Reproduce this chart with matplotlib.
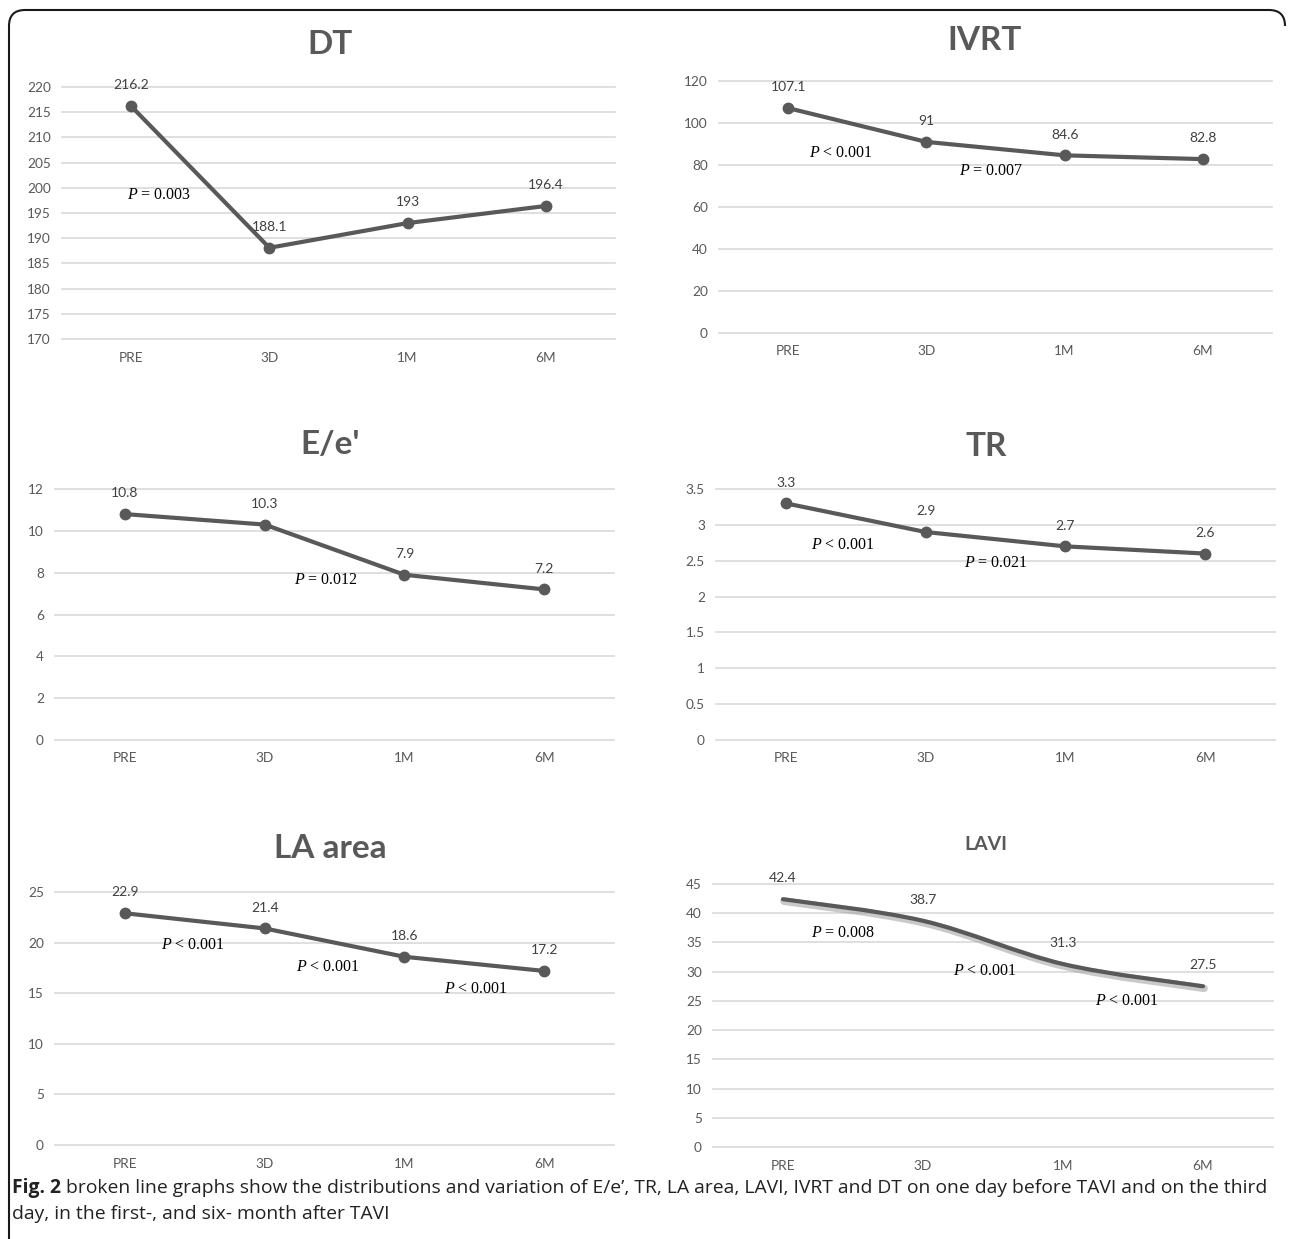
import matplotlib
matplotlib.use("Agg")
import matplotlib.pyplot as plt
import matplotlib.transforms as mtransforms
from matplotlib.path import Path
from matplotlib.patches import PathPatch
import numpy as np

# data
categories = ["PRE", "3D", "1M", "6M"]
dt_values = [216.2, 188.1, 193, 196.4]
ivrt_values = [107.1, 91, 84.6, 82.8]
ee_values = [10.8, 10.3, 7.9, 7.2]
tr_values = [3.3, 2.9, 2.7, 2.6]
la_values = [22.9, 21.4, 18.6, 17.2]
lavi_values = [42.4, 38.7, 31.3, 27.5]

dt_ticks = np.arange(170, 221, 5)
ivrt_ticks = np.arange(0, 121, 20)
ee_ticks = np.arange(0, 13, 2)
tr_ticks = np.arange(0, 3.6, 0.5)
la_ticks = np.arange(0, 26, 5)
lavi_ticks = np.arange(0, 46, 5)

# p-value notes: (x in category units, y in data units, text)
dt_pvals = [(0.2, 198.6, "= 0.003")]
ivrt_pvals = [(0.38, 85.7, "< 0.001"), (1.47, 77.1, "= 0.007")]
ee_pvals = [(1.44, 7.65, "= 0.012")]
tr_pvals = [(0.41, 2.72, "< 0.001"), (1.5, 2.47, "= 0.021")]
la_pvals = [(0.49, 19.76, "< 0.001"), (1.45, 17.6, "< 0.001"), (2.51, 15.4, "< 0.001")]
lavi_pvals = [(0.43, 36.6, "= 0.008"), (1.44, 30.1, "< 0.001"), (2.46, 25.0, "< 0.001")]

caption_bold = "Fig. 2"
caption_1 = ("broken line graphs show the distributions and variation of E/e\u2019, TR, LA area, "
             "LAVI, IVRT and DT on one day before TAVI and on the third")
caption_2 = "day, in the first-, and six- month after TAVI"

W, H = 1292, 1239
plt.rcParams["font.family"] = ["Lato", "DejaVu Sans"]
plt.rcParams["mathtext.fontset"] = "custom"
plt.rcParams["mathtext.it"] = "Liberation Serif:italic"
plt.rcParams["mathtext.rm"] = "Liberation Serif"

LINE = "#595959"
GRID = "#d9d9d9"
TICK = "#595959"
LABEL = "#404040"

fig = plt.figure(figsize=(W / 100, H / 100), dpi=100)
px = mtransforms.Affine2D().scale(1 / W, 1 / H) + fig.transFigure


def panel(box, title, title_xy, values, ticks, pvals, title_size=24, smooth=False):
    x0, x1, ytop, ybot = box
    ax = fig.add_axes([x0 / W, 1 - ybot / H, (x1 - x0) / W, (ybot - ytop) / H])
    ax.set_xlim(-0.5, len(categories) - 0.5)
    ax.set_ylim(ticks[0], ticks[-1])
    ax.set_xticks(range(len(categories)))
    ax.set_xticklabels(categories)
    ax.set_yticks(ticks)
    ax.set_yticklabels([f"{t:g}" for t in ticks])
    for s in ax.spines.values():
        s.set_visible(False)
    ax.tick_params(length=0, labelsize=9.8, colors=TICK)
    ax.tick_params(axis="y", pad=8)
    ax.tick_params(axis="x", pad=9)
    ax.yaxis.grid(True, color=GRID, lw=1.2)
    for gl in ax.get_ygridlines():
        gl.set_clip_on(False)
    ax.set_axisbelow(True)

    xs = np.arange(len(values))
    if smooth:
        pts = np.column_stack([xs, values]).astype(float)
        ext = np.vstack([pts[0], pts, pts[-1]])
        verts = [pts[0]]
        codes = [Path.MOVETO]
        for i in range(len(pts) - 1):
            c1 = ext[i + 1] + (ext[i + 2] - ext[i]) / 6
            c2 = ext[i + 2] - (ext[i + 3] - ext[i + 1]) / 6
            verts += [c1, c2, pts[i + 1]]
            codes += [Path.CURVE4] * 3
        path = Path(verts, codes)
        shadow = mtransforms.offset_copy(ax.transData, fig=fig, x=1, y=-2, units="dots")
        ax.add_patch(PathPatch(path, fc="none", ec="#a6a6a6", lw=5.5, alpha=0.6,
                               transform=shadow, capstyle="round", clip_on=False))
        ax.add_patch(PathPatch(path, fc="none", ec=LINE, lw=3, capstyle="round",
                               clip_on=False))
    else:
        ax.plot(xs, values, color=LINE, lw=3, marker="o", ms=7.5, clip_on=False,
                solid_joinstyle="round")

    for i, v in enumerate(values):
        ax.annotate(f"{v:g}", (i, v), xytext=(0, 15), textcoords="offset points",
                    ha="center", va="center", fontsize=10, color=LABEL)
    for x, y, t in pvals:
        ax.text(x, y, r"$P$ " + t, ha="center", va="center", fontsize=11.5,
                family="Liberation Serif", color="black")

    fig.text(title_xy[0] / W, 1 - title_xy[1] / H, title, ha="center", va="center",
             fontsize=title_size, fontweight="bold", color=LINE)
    return ax


panel((62, 615, 87, 339), "DT", (330, 44), dt_values, dt_ticks, dt_pvals)
panel((719, 1272, 81, 333), "IVRT", (985, 41), ivrt_values, ivrt_ticks, ivrt_pvals)
panel((55, 614, 489, 740), "E/e'", (330, 444), ee_values, ee_ticks, ee_pvals)
panel((716, 1275, 489, 740), "TR", (986, 446), tr_values, tr_ticks, tr_pvals)
panel((55, 614, 892, 1145), "LA area", (330, 849), la_values, la_ticks, la_pvals)
panel((713, 1273, 884, 1147), "LAVI", (986, 845), lavi_values, lavi_ticks, lavi_pvals,
      title_size=14, smooth=True)

# outer frame: left and top edges, rounded top corners, open elsewhere
r = 16
L, T, R, B = 9, 10, 1285, H + 5
frame = Path(
    [(L, H - B), (L, H - T - r), (L, H - T), (L + r, H - T),
     (R - r, H - T), (R, H - T), (R, H - T - r)],
    [Path.MOVETO, Path.LINETO, Path.CURVE3, Path.CURVE3,
     Path.LINETO, Path.CURVE3, Path.CURVE3])
fig.add_artist(PathPatch(frame, fc="none", ec="#1a1a1a", lw=1.5, transform=px))

# caption
cap_size = 13.9
t0 = fig.text(12 / W, 1 - 1188 / H, caption_bold, fontsize=cap_size, fontweight="bold",
              family="Open Sans", va="center", color="#222222")
fig.canvas.draw()
bb = t0.get_window_extent()
fig.text((bb.x1 + 5) / W, 1 - 1188 / H, caption_1, fontsize=cap_size, family="Open Sans",
         va="center", color="#222222")
fig.text(12 / W, 1 - 1214 / H, caption_2, fontsize=cap_size, family="Open Sans",
         va="center", color="#222222")

fig.savefig("out.png", dpi=100)
